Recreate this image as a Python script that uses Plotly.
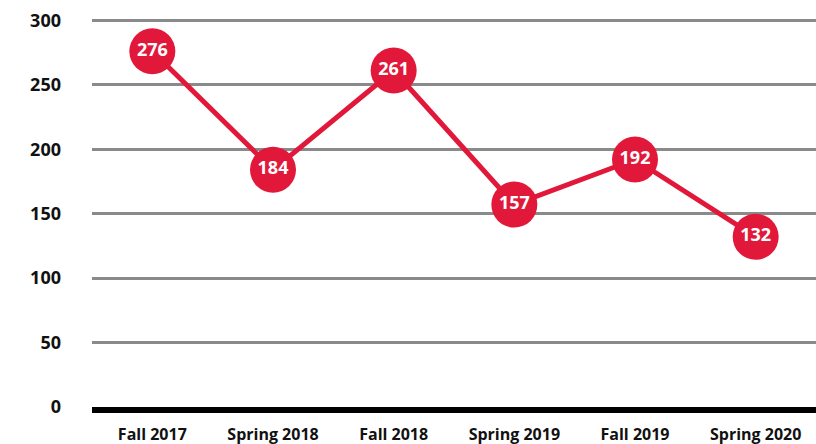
import plotly.graph_objects as go

terms = ["Fall 2017", "Spring 2018", "Fall 2018", "Spring 2019", "Fall 2019", "Spring 2020"]
counts = [276, 184, 261, 157, 192, 132]
y_ticks = [0, 50, 100, 150, 200, 250, 300]

red = "#e2183a"

fig = go.Figure()
fig.add_trace(go.Scatter(
    x=terms, y=counts,
    mode="lines+markers+text",
    line=dict(color=red, width=5),
    marker=dict(size=46, color=red, line=dict(width=0)),
    text=[str(c) for c in counts],
    textposition="middle center",
    textfont=dict(family="Open Sans", size=18, color="white", weight="bold"),
    cliponaxis=False,
    hoverinfo="skip",
))

fig.update_layout(
    width=816, height=444,
    margin=dict(l=92, r=0, t=19, b=37),
    paper_bgcolor="white", plot_bgcolor="white",
    showlegend=False,
    xaxis=dict(
        type="category", range=[-0.5, 5.5], automargin=False,
        showgrid=False, zeroline=False,
        showline=True, linecolor="black", linewidth=6,
        ticks="", ticklabelstandoff=8,
        tickfont=dict(family="Open Sans", size=16, color="#111", weight="bold"),
    ),
    yaxis=dict(
        range=[0, 301], tickvals=y_ticks, automargin=False,
        showgrid=True, gridcolor="#8a8a8a", gridwidth=3,
        zeroline=False, showline=False,
        ticks="", ticklabelstandoff=30,
        tickfont=dict(family="Open Sans", size=18, color="#111", weight="bold"),
    ),
)

fig.write_html("out.html", config={"displayModeBar": False},
               post_script="document.body.style.margin='0';")
